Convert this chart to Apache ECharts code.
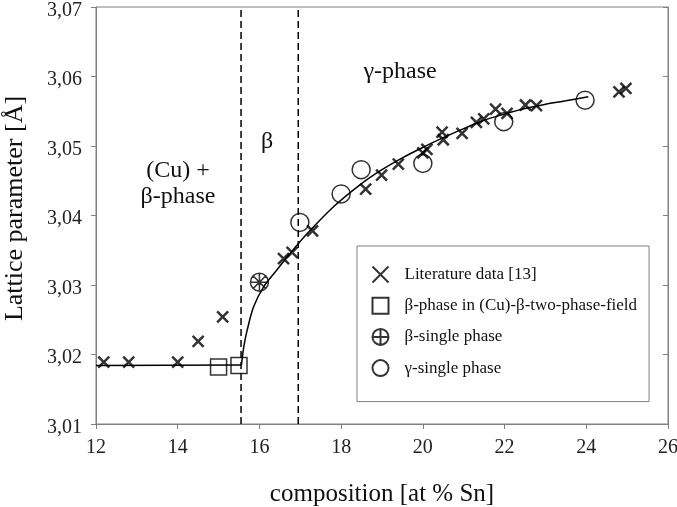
<!DOCTYPE html>
<html>
<head>
<meta charset="utf-8">
<script src="https://cdn.jsdelivr.net/npm/echarts@6/dist/echarts.min.js"></script>
<style>
html,body{margin:0;padding:0;background:#fff;}
#chart{width:677px;height:507px;}
</style>
</head>
<body>
<div id="chart"></div>
<script>
// ---- data ----
const litX = [12.19, 12.80, 14.00, 14.50, 15.10, 16.59, 16.80, 17.30, 18.60, 18.99, 19.40, 20.00, 20.10, 20.47, 20.50, 20.96, 21.31, 21.49, 21.78, 22.06, 22.51, 22.78, 24.80, 24.97];
const litY = [3.0189, 3.0189, 3.0189, 3.0219, 3.0254, 3.0338, 3.0347, 3.0378, 3.0438, 3.0458, 3.0474, 3.0490, 3.0495, 3.0520, 3.0509, 3.0518, 3.0534, 3.0539, 3.0553, 3.0547, 3.0559, 3.0558, 3.0578, 3.0583];
const twoPhaseX = [15.00, 15.50];
const twoPhaseY = [3.0182, 3.0184];
const betaX = [16.00];
const betaY = [3.0304];
const gammaX = [16.99, 18.00, 18.49, 20.00, 21.98, 23.97];
const gammaY = [3.0390, 3.0431, 3.0466, 3.0475, 3.0535, 3.0566];
const flatX = [12.0, 15.56];
const flatY = [3.0184, 3.0185];
const curveX = [15.56, 15.62, 15.70, 15.86, 16.11, 16.43, 16.76, 17.17, 17.82, 18.50, 19.00, 19.50, 20.00, 20.50, 21.00, 21.50, 22.00, 22.50, 23.00, 23.50, 24.05];
const curveY = [3.0185, 3.0212, 3.0235, 3.0269, 3.0298, 3.0322, 3.0346, 3.0374, 3.0413, 3.0446, 3.0466, 3.0483, 3.0498, 3.0512, 3.0525, 3.0537, 3.0546, 3.0554, 3.0560, 3.0565, 3.0571];
const boundaries = [15.55, 16.95];
const xTicks = [12, 14, 16, 18, 20, 22, 24, 26];
const yTicks = ['3,01', '3,02', '3,03', '3,04', '3,05', '3,06', '3,07'];
const seriesNames = ['Literature data [13]', 'β-phase in (Cu)-β-two-phase-field', 'β-single phase', 'γ-single phase'];
const annotations = ['γ-phase', 'β', '(Cu) +\nβ-phase'];

const pairs = (xs, ys) => xs.map((x, i) => [x, ys[i]]);
const FONT = 'Liberation Serif';
const crossPath = 'path://M0,0L10,10M10,0L0,10';
const squarePath = 'path://M0,0L10,0L10,10L0,10Z';
const betaPath = 'path://M0,9A9,9,0,1,1,18,9A9,9,0,1,1,0,9ZM9,0L9,18M0,9L18,9M2.6,2.6L15.4,15.4M15.4,2.6L2.6,15.4';
const betaLegend = 'path://M0,9A9,9,0,1,1,18,9A9,9,0,1,1,0,9ZM9,0L9,18M0,9L18,9';

const chart = echarts.init(document.getElementById('chart'), null, {renderer: 'canvas'});

const series = [
  {type: 'line', data: pairs(flatX, flatY), showSymbol: false, symbol: 'none', silent: true,
   lineStyle: {color: '#000', width: 1.5}, z: 2},
  {type: 'line', data: pairs(curveX, curveY), showSymbol: false, symbol: 'none', smooth: 0.35, silent: true,
   lineStyle: {color: '#000', width: 1.5}, z: 2}
];
boundaries.forEach(b => series.push({
  type: 'line', data: [[b, 3.01], [b, 3.07]], showSymbol: false, symbol: 'none', silent: true,
  lineStyle: {color: '#000', width: 1.5, type: [7, 4]}, z: 1
}));
series.push(
  {name: seriesNames[0], type: 'scatter', data: pairs(litX, litY), symbol: crossPath, symbolSize: 11,
   itemStyle: {color: 'none', borderColor: '#000', borderWidth: 2.5}, z: 5},
  {name: seriesNames[1], type: 'scatter', data: pairs(twoPhaseX, twoPhaseY), symbol: 'rect', symbolSize: 16,
   itemStyle: {color: 'none', borderColor: '#000', borderWidth: 1.5}, z: 5},
  {name: seriesNames[2], type: 'scatter', data: pairs(betaX, betaY), symbol: betaPath, symbolSize: 18,
   itemStyle: {color: 'none', borderColor: '#000', borderWidth: 1.5}, z: 5},
  {name: seriesNames[3], type: 'scatter', data: pairs(gammaX, gammaY), symbol: 'circle', symbolSize: 18,
   itemStyle: {color: 'none', borderColor: '#000', borderWidth: 1.5}, z: 5}
);

const yFmt = v => {
  const idx = Math.round((v - 3.01) / 0.01);
  return yTicks[idx] !== undefined ? '{a|' + yTicks[idx] + '}' : '';
};

chart.setOption({
  animation: false,
  backgroundColor: '#fff',
  grid: {left: 96, right: 9, top: 7, bottom: 83, show: true, borderColor: '#808080', borderWidth: 1,
         containLabel: false, outerBoundsMode: 'none'},
  xAxis: {
    type: 'value', min: xTicks[0], max: xTicks[xTicks.length - 1], interval: 2,
    splitLine: {show: false},
    axisLine: {lineStyle: {color: '#808080', width: 1}},
    axisTick: {show: true, inside: false, length: 5, lineStyle: {color: '#808080'}},
    axisLabel: {fontFamily: FONT, fontSize: 20, color: '#222', margin: 14},
    name: 'composition [at % Sn]', nameLocation: 'middle', nameGap: 58,
    nameTextStyle: {fontFamily: FONT, fontSize: 25, color: '#111'}
  },
  yAxis: [{
    type: 'value', min: 3.01, max: 3.07, interval: 0.01,
    splitLine: {show: false},
    axisLine: {show: true, lineStyle: {color: '#808080', width: 1}},
    axisTick: {show: true, inside: false, length: 5, lineStyle: {color: '#808080'}},
    axisLabel: {fontFamily: FONT, fontSize: 20, color: '#222', margin: 14, formatter: yFmt,
      rich: {a: {fontFamily: FONT, fontSize: 20, color: '#222', padding: [7, 0, 0, 0]}}},
    name: 'Lattice parameter [Å]', nameLocation: 'middle', nameGap: 68,
    nameTextStyle: {fontFamily: FONT, fontSize: 26, color: '#111', padding: [0, 0, 0, 14]}
  }, {
    type: 'value', position: 'right', min: 3.01, max: 3.07, interval: 0.01,
    splitLine: {show: false},
    axisLine: {show: true, lineStyle: {color: '#808080', width: 1}},
    axisTick: {show: true, inside: true, length: 5, lineStyle: {color: '#808080'}},
    axisLabel: {show: false}
  }],
  legend: {
    orient: 'vertical', left: 357, top: 246,
    padding: [18, 12, 23, 13],
    itemWidth: 38, itemHeight: 16, itemGap: 10.2,
    borderColor: '#808080', borderWidth: 1,
    textStyle: {fontFamily: FONT, fontSize: 17, color: '#111'},
    data: [
      {name: seriesNames[0], icon: crossPath},
      {name: seriesNames[1], icon: squarePath},
      {name: seriesNames[2], icon: betaLegend},
      {name: seriesNames[3], icon: 'circle'}
    ]
  },
  graphic: [
    {type: 'text', x: 400, y: 72, style: {text: annotations[0], font: '24px "Liberation Serif"', fill: '#111', align: 'center', verticalAlign: 'middle'}},
    {type: 'text', x: 267, y: 142, style: {text: annotations[1], font: '24px "Liberation Serif"', fill: '#111', align: 'center', verticalAlign: 'middle'}},
    {type: 'text', x: 178, y: 184, style: {text: annotations[2], font: '24px "Liberation Serif"', lineHeight: 26, fill: '#111', align: 'center', verticalAlign: 'middle'}}
  ],
  series: series
});
</script>
</body>
</html>
